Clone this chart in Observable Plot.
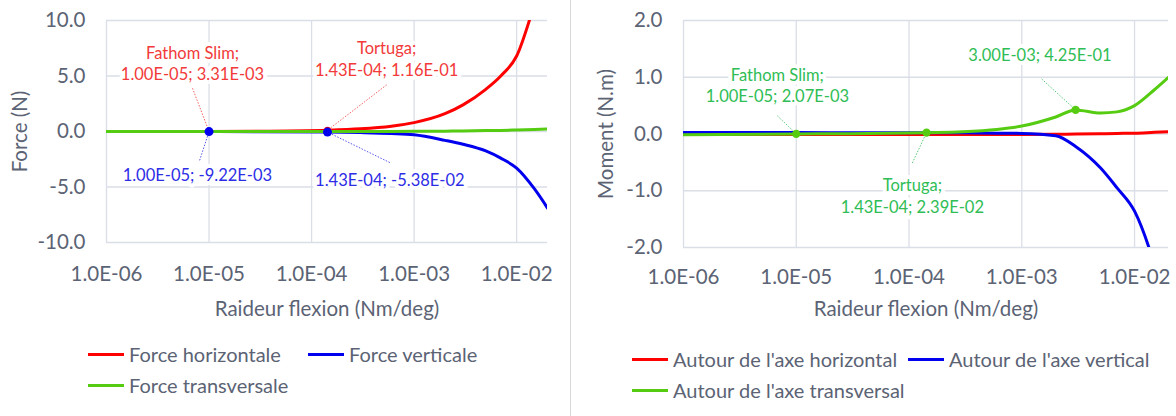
<!DOCTYPE html>
<html>
<head>
<meta charset="utf-8">
<script src="https://cdn.jsdelivr.net/npm/d3@7"></script>
<script src="https://cdn.jsdelivr.net/npm/@observablehq/plot@0.6"></script>
<style>
  html, body { margin: 0; padding: 0; background: #fff; }
  #wrap { position: relative; width: 1176px; height: 416px; overflow: hidden; font-family: Lato, sans-serif; color: #5b6374; }
  .chart { position: absolute; top: 0; }
  #sep { position: absolute; left: 570px; top: 0; width: 1px; height: 416px; background: #d9d9d9; }
  .legend { position: absolute; font-size: 20px; }
  .item { position: absolute; white-space: nowrap; display: flex; align-items: center; }
  .sw { display: inline-block; width: 36px; height: 3px; margin-right: 5px; }
</style>
</head>
<body>
<div id="wrap">
  <div id="left" class="chart" style="left:0px"></div>
  <div id="sep"></div>
  <div id="right" class="chart" style="left:571px"></div>
  <div id="legL" class="legend"></div>
  <div id="legR" class="legend"></div>
</div>
<script>
// ---------- data ----------
const stiffness = [1e-6, 1e-5, 3e-5, 1.43e-4, 3e-4, 6e-4, 1e-3, 2e-3, 3e-3, 5e-3, 7e-3, 1e-2, 1.5e-2, 2e-2];

const forceHorizontale  = [0.0003, 0.00331, 0.02, 0.116, 0.24, 0.48, 0.8, 1.6, 2.4, 3.8, 5.0, 6.8, 11.5, 15.0];
const forceVerticale    = [-0.001, -0.00922, -0.02, -0.0538, -0.1, -0.18, -0.3, -0.8, -1.15, -1.75, -2.4, -3.3, -5.2, -6.9];
const forceTransversale = [0, 0, 0, 0.001, 0.003, 0.008, 0.015, 0.03, 0.05, 0.08, 0.1, 0.14, 0.19, 0.22];

const momentHorizontal  = [-0.01, -0.01, -0.01, -0.01, -0.01, -0.01, -0.01, -0.005, 0, 0.005, 0.01, 0.015, 0.03, 0.04];
const momentVertical    = [0.025, 0.025, 0.022, 0.02, 0.02, 0.015, 0.01, -0.03, -0.22, -0.6, -0.95, -1.36, -2.3, -3.2];
const momentTransversal = [-0.015, 0.00207, 0.006, 0.0239, 0.04, 0.08, 0.14, 0.3, 0.425, 0.37, 0.39, 0.5, 0.78, 1.0];

const xTicks = [1e-6, 1e-5, 1e-4, 1e-3, 1e-2];
const forceTicks = [-10, -5, 0, 5, 10];
const momentTicks = [-2, -1, 0, 1, 2];

const forceSeries = ["Force horizontale", "Force verticale", "Force transversale"];
const momentSeries = ["Autour de l'axe horizontal", "Autour de l'axe vertical", "Autour de l'axe transversal"];
const seriesColors = ["#ff0000", "#0000ee", "#55cc11"];

// highlighted points (Fathom Slim, Tortuga, peak)
const fathomK = 1e-5, tortugaK = 1.43e-4, peakK = 3e-3;

// annotation labels: text, label anchor (data units), leader start (data units), target point
const forceNotes = [
  {text: "Fathom Slim;\n1.00E-05; 3.31E-03", lx: 6.9e-6, ly: 6.2, sx: 6.9e-6, sy: 3.9, px: fathomK, py: 0.00331, color: "#f23a3a"},
  {text: "Tortuga;\n1.43E-04; 1.16E-01", lx: 5.4e-4, ly: 6.6, sx: 5.4e-4, sy: 4.2, px: tortugaK, py: 0.116, color: "#f23a3a"},
  {text: "1.00E-05; -9.22E-03", lx: 7.7e-6, ly: -3.8, sx: 8.1e-6, sy: -2.6, px: fathomK, py: -0.00922, color: "#2d2de6"},
  {text: "1.43E-04; -5.38E-02", lx: 5.8e-4, ly: -4.3, sx: 5.8e-4, sy: -2.8, px: tortugaK, py: -0.0538, color: "#2d2de6"}
];
const momentNotes = [
  {text: "Fathom Slim;\n1.00E-05; 2.07E-03", lx: 6.8e-6, ly: 0.87, sx: 6.8e-6, sy: 0.32, px: fathomK, py: 0.00207, color: "#2fbd55"},
  {text: "Tortuga;\n1.43E-04; 2.39E-02", lx: 1.07e-4, ly: -1.08, sx: 1.07e-4, sy: -0.51, px: tortugaK, py: 0.0239, color: "#2fbd55"},
  {text: "3.00E-03; 4.25E-01", lx: 1.45e-3, ly: 1.41, sx: 1.5e-3, sy: 0.97, px: peakK, py: 0.425, color: "#2fbd55"}
];

// ---------- helpers ----------
function toRows(names, arrays) {
  const rows = [];
  names.forEach((name, i) => arrays[i].forEach((v, j) => rows.push({series: name, k: stiffness[j], v})));
  return rows;
}
const fmtX = d => "1.0E-" + String(-Math.round(Math.log10(d))).padStart(2, "0");
const fmtY = d => d.toFixed(1);
const gridColor = "#dadee6";
const textColor = "#5b6374";

function makeChart(opts) {
  const rows = toRows(opts.names, opts.arrays);
  const notes = opts.notes;
  return Plot.plot({
    width: opts.width,
    height: 330,
    marginLeft: opts.marginLeft,
    marginRight: opts.marginRight,
    marginTop: 20,
    marginBottom: opts.marginBottom,
    style: {fontFamily: "Lato, sans-serif", fontSize: "20.5px", color: textColor, background: "transparent", overflow: "visible"},
    x: {type: "log", domain: [1e-6, 2e-2]},
    y: {domain: opts.yDomain},
    color: {domain: opts.names, range: seriesColors},
    marks: [
      Plot.gridX(xTicks, {stroke: gridColor, strokeOpacity: 1, strokeWidth: 1.3}),
      Plot.gridY(opts.yTicks, {stroke: gridColor, strokeOpacity: 1, strokeWidth: 1.3}),
      Plot.axisX(xTicks, {tickFormat: fmtX, tickSize: 0, tickPadding: opts.xPad, label: "Raideur flexion (Nm/deg)", labelAnchor: "center", labelArrow: "none", labelOffset: opts.xLabelOffset, fill: textColor}),
      Plot.axisY(opts.yTicks, {tickFormat: fmtY, tickSize: 0, tickPadding: 21, label: opts.yLabel, labelAnchor: "center", labelArrow: "none", labelOffset: opts.yLabelOffset, fill: textColor}),
      Plot.link(notes, {x1: "sx", y1: "sy", x2: "px", y2: "py", stroke: d => d.color, strokeWidth: 1, strokeDasharray: "1.5,1.5", strokeOpacity: 0.8}),
      Plot.text(notes, {x: "lx", y: "ly", text: "text", fill: d => d.color, fontSize: 16.5, lineHeight: 1.3, stroke: "white", strokeWidth: 8, paintOrder: "stroke"}),
      Plot.line(rows, {x: "k", y: "v", z: "series", stroke: "series", strokeWidth: 3, curve: "monotone-x", clip: true}),
      ...opts.dotSets.map(s => Plot.dot(s.points, {x: "k", y: "v", fill: s.color, r: s.r, stroke: "none"}))
    ]
  });
}

const leftDotSets = [
  {color: "#ff0000", r: 3.5, points: [{k: fathomK, v: forceHorizontale[1]}, {k: tortugaK, v: forceHorizontale[3]}]},
  {color: "#0000ee", r: 4.5, points: [{k: fathomK, v: forceVerticale[1]}, {k: tortugaK, v: forceVerticale[3]}]}
];
const rightDotSets = [
  {color: "#55cc11", r: 4.2, points: [{k: fathomK, v: momentTransversal[1]}, {k: tortugaK, v: momentTransversal[3]}, {k: peakK, v: momentTransversal[8]}]}
];

document.getElementById("left").appendChild(makeChart({
  width: 570, marginLeft: 106, marginRight: 23, marginBottom: 88,
  names: forceSeries, arrays: [forceHorizontale, forceVerticale, forceTransversale],
  yDomain: [-10, 10], yTicks: forceTicks, yLabel: "Force (N)", yLabelOffset: 94,
  xPad: 24, xLabelOffset: 73, notes: forceNotes, dotSets: leftDotSets
}));

document.getElementById("right").appendChild(makeChart({
  width: 605, marginLeft: 112, marginRight: 8, marginBottom: 83,
  names: momentSeries, arrays: [momentHorizontal, momentVertical, momentTransversal],
  yDomain: [-2, 2], yTicks: momentTicks, yLabel: "Moment (N.m)", yLabelOffset: 85,
  xPad: 22, xLabelOffset: 68, notes: momentNotes, dotSets: rightDotSets
}));

// ---------- legends ----------
function legend(el, names, items) {
  names.forEach((name, i) => {
    const d = document.createElement("div");
    d.className = "item";
    d.style.left = items[i][0] + "px";
    d.style.top = items[i][1] + "px";
    d.innerHTML = `<span class="sw" style="background:${seriesColors[i]}"></span><span>${name}</span>`;
    el.appendChild(d);
  });
}
legend(document.getElementById("legL"), forceSeries, [[88, 342], [308, 342], [88, 373]]);
legend(document.getElementById("legR"), momentSeries, [[632, 347], [908, 347], [632, 378]]);
</script>
</body>
</html>
